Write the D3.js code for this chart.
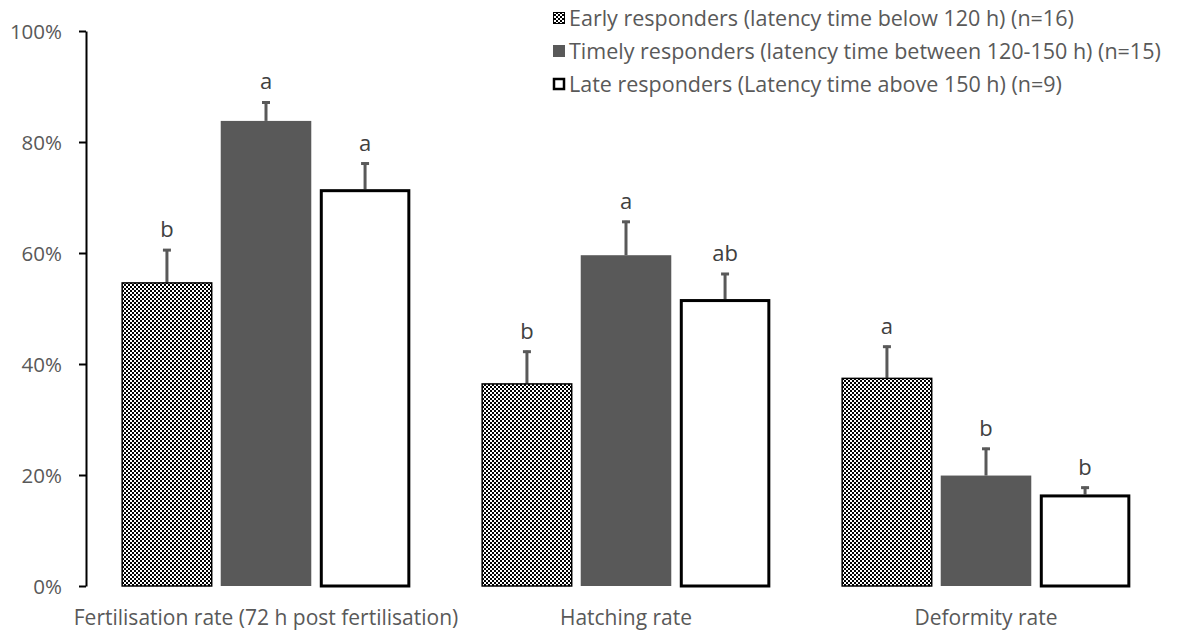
<!DOCTYPE html>
<html><head><meta charset="utf-8">
<script src="https://cdn.jsdelivr.net/npm/d3@7"></script>
<style>body{margin:0;background:#fff}svg{display:block}text{font-family:"Open Sans",sans-serif}</style>
</head><body><svg id="c" width="1186" height="635"></svg>
<script>
const categories = ["Fertilisation rate (72 h post fertilisation)", "Hatching rate", "Deformity rate"];
const seriesNames = ["Early responders (latency time below 120 h) (n=16)", "Timely responders (latency time between 120-150 h) (n=15)", "Late responders (Latency time above 150 h) (n=9)"];
const earlyValues = [54.7, 36.5, 37.5];
const timelyValues = [83.8, 59.6, 19.9];
const lateValues = [71.5, 51.7, 16.5];
const earlyErr = [6.0, 5.9, 5.8];
const timelyErr = [3.5, 6.2, 5.0];
const lateErr = [4.8, 4.7, 1.4];
const earlyLetters = ["b", "b", "a"];
const timelyLetters = ["a", "a", "b"];
const lateLetters = ["a", "ab", "b"];
const yTicks = [0, 20, 40, 60, 80, 100];

const svg = d3.select("#c");
const defs = svg.append("defs");
const pat = defs.append("pattern").attr("id","chk").attr("patternUnits","userSpaceOnUse").attr("width",4).attr("height",4);
pat.append("rect").attr("width",4).attr("height",4).attr("fill","#fff");
pat.append("rect").attr("width",2).attr("height",2).attr("fill","#000");
pat.append("rect").attr("x",2).attr("y",2).attr("width",2).attr("height",2).attr("fill","#000");

const x0 = d3.scaleBand().domain(categories).range([86, 1166]).paddingInner(0).paddingOuter(0);
const keys = ["early","timely","late"];
const x1 = d3.scaleBand().domain(keys).range([0, x0.bandwidth()]).paddingInner(0.086).paddingOuter(0.36);
const y = d3.scaleLinear().domain([0,100]).range([586, 31]);

const series = [
  {key:"early", vals:earlyValues, err:earlyErr, lab:earlyLetters},
  {key:"timely", vals:timelyValues, err:timelyErr, lab:timelyLetters},
  {key:"late", vals:lateValues, err:lateErr, lab:lateLetters}
];

// y axis
const ax = svg.append("g").attr("transform","translate(86,0)")
  .call(d3.axisLeft(y).tickValues(yTicks).tickFormat(d=>d+"%").tickSize(7).tickSizeOuter(0));
ax.select(".domain").attr("stroke","#000").attr("stroke-width",2);
ax.selectAll(".tick line").attr("stroke","#000").attr("stroke-width",2);
ax.selectAll(".tick text").attr("fill","#595959").attr("font-size",20.5).attr("x",-24).attr("dy","0.35em");

series.forEach(s=>{
  const g = svg.append("g");
  categories.forEach((c,i)=>{
    const bx = x0(c)+x1(s.key), bw = x1.bandwidth();
    const v = s.vals[i], top = y(v);
    const cx = bx + bw/2;
    const et = y(v + s.err[i]);
    g.append("line").attr("x1",cx).attr("x2",cx).attr("y1",top).attr("y2",et).attr("stroke","#595959").attr("stroke-width",3);
    g.append("line").attr("x1",cx-4).attr("x2",cx+4).attr("y1",et+1).attr("y2",et+1).attr("stroke","#595959").attr("stroke-width",3);
    if (s.key==="early") {
      g.append("rect").attr("x",bx+0.5).attr("y",top+0.5).attr("width",bw-1).attr("height",y(0)-top-0.5)
        .attr("fill","url(#chk)").attr("stroke","#000").attr("stroke-width",1.5);
    } else if (s.key==="timely") {
      g.append("rect").attr("x",bx).attr("y",top).attr("width",bw).attr("height",y(0)-top).attr("fill","#595959");
    } else {
      g.append("rect").attr("x",bx+1.5).attr("y",top+1.5).attr("width",bw-3).attr("height",y(0)-top-1.5)
        .attr("fill","#fff").attr("stroke","#000").attr("stroke-width",3);
    }
    g.append("text").attr("x",cx).attr("y",et-12).attr("text-anchor","middle")
      .attr("font-size",22).attr("fill","#404040").text(s.lab[i]);
  });
});

// category labels
svg.append("g").selectAll("text").data(categories).join("text")
  .attr("x",d=>x0(d)+x0.bandwidth()/2).attr("y",625).attr("text-anchor","middle")
  .attr("font-size",21).attr("fill","#595959").text(d=>d);

// legend
const lg = svg.append("g");
seriesNames.forEach((n,i)=>{
  const ly = 18 + i*33;
  if (i===0) lg.append("rect").attr("x",553.5).attr("y",ly-5.5).attr("width",11).attr("height",11).attr("fill","url(#chk)").attr("stroke","#000").attr("stroke-width",1);
  else if (i===1) lg.append("rect").attr("x",553).attr("y",ly-6).attr("width",12).attr("height",12).attr("fill","#595959");
  else lg.append("rect").attr("x",554).attr("y",ly-5).attr("width",10).attr("height",10).attr("fill","#fff").attr("stroke","#000").attr("stroke-width",2.5);
  lg.append("text").attr("x",569).attr("y",ly).attr("dy","0.35em").attr("font-size",21.5).attr("fill","#595959").text(n);
});
</script></body></html>
